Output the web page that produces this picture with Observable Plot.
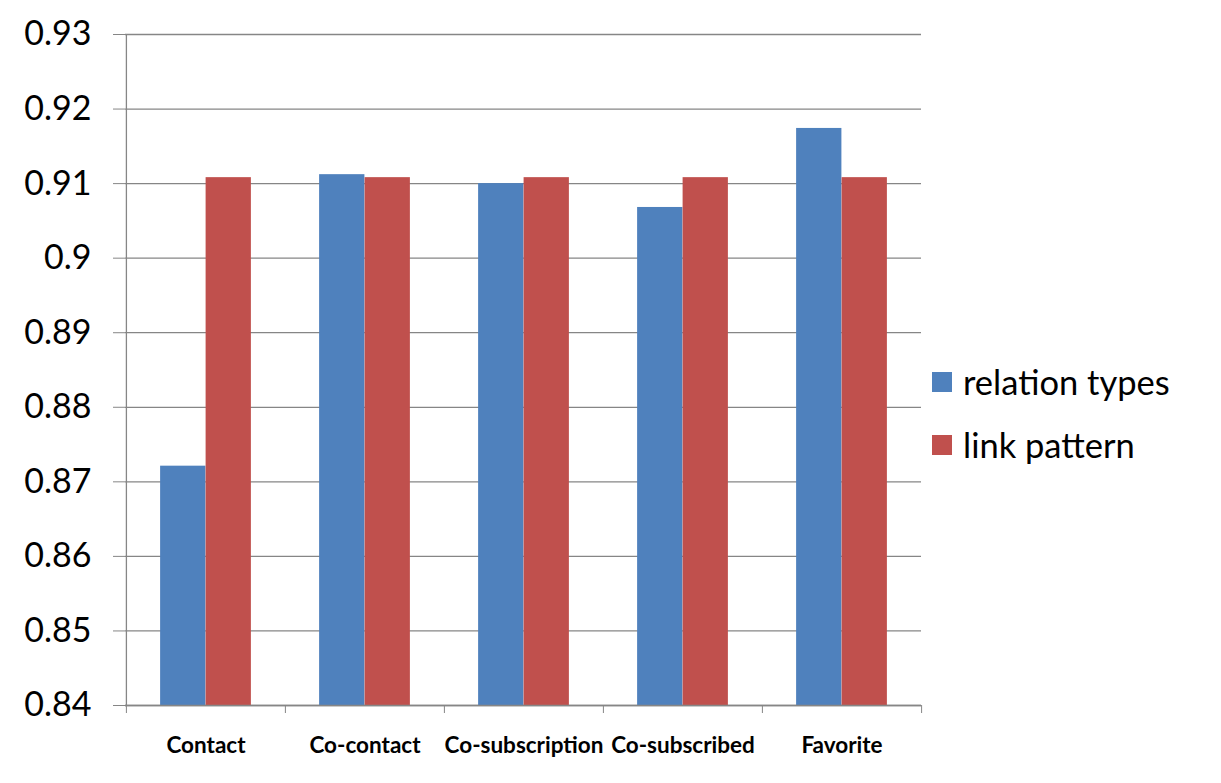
<!DOCTYPE html>
<html><head><meta charset="utf-8">
<script src="https://cdn.jsdelivr.net/npm/d3@7"></script>
<script src="https://cdn.jsdelivr.net/npm/@observablehq/plot@0.6"></script>
<style>
body{margin:0;background:#fff;color:#000;font-family:Lato, "Open Sans", sans-serif;}
#wrap{position:relative;width:1221px;height:783px;overflow:hidden;}
#legend{position:absolute;left:932px;top:350px;}
.item{display:flex;align-items:center;height:63px;font-size:34.5px;white-space:nowrap;}
.sw{width:20px;height:20px;margin-right:11px;flex:none;}
</style></head><body>
<div id="wrap"><div id="chart"></div><div id="legend"></div></div>
<script>
const categories = ["Contact", "Co-contact", "Co-subscription", "Co-subscribed", "Favorite"];
const series = ["relation types", "link pattern"];
const relationTypes = [0.8721, 0.9112, 0.9100, 0.9068, 0.9174];
const linkPattern = [0.9108, 0.9108, 0.9108, 0.9108, 0.9108];
const yTicks = [0.84, 0.85, 0.86, 0.87, 0.88, 0.89, 0.90, 0.91, 0.92, 0.93];
const colors = ["#4F81BD", "#C0504D"];

const rows = [];
categories.forEach((c, i) => {
  rows.push({category: c, series: series[0], value: relationTypes[i]});
  rows.push({category: c, series: series[1], value: linkPattern[i]});
});

const W = 1221, H = 783, mL = 125, mR = 300, mT = 34, mB = 78;
const bw = (W - mL - mR) / categories.length;
const barW = bw / 3.5;          // Excel gap width 150%
const half = 0.75 * barW;
const grid = "#868686";

const chart = Plot.plot({
  width: W, height: H,
  marginLeft: mL, marginRight: mR, marginTop: mT, marginBottom: mB,
  style: {fontFamily: "Lato, 'Open Sans', sans-serif", color: "#000", background: "#fff"},
  x: {type: "band", domain: categories, padding: 0, label: null},
  y: {domain: [yTicks[0], yTicks[yTicks.length - 1]], label: null},
  marks: [
    Plot.ruleY(yTicks, {stroke: grid, strokeWidth: 1.3}),
    Plot.barY(rows.filter(d => d.series === series[0]), {
      x: "category", y1: yTicks[0], y2: "value", fill: colors[0],
      insetLeft: half, insetRight: half + barW
    }),
    Plot.barY(rows.filter(d => d.series === series[1]), {
      x: "category", y1: yTicks[0], y2: "value", fill: colors[1],
      insetLeft: half + barW, insetRight: half
    }),
    Plot.ruleX([categories[0]], {y1: yTicks[0], y2: yTicks[yTicks.length - 1], dx: -bw / 2, stroke: grid, strokeWidth: 1.3}),
    Plot.ruleY([yTicks[0]], {stroke: grid, strokeWidth: 1.3}),
    Plot.axisY({ticks: yTicks, tickSize: 12, tickPadding: 22, fontSize: 34,
      tickFormat: d => String(+d.toFixed(2)), stroke: grid, fill: "#000"}),
    Plot.axisX({tickSize: 8, tickFormat: () => "", dx: -bw / 2, stroke: grid}),
    Plot.axisX({ticks: [categories[categories.length - 1]], tickSize: 8, tickFormat: () => "", dx: bw / 2, stroke: grid}),
    Plot.axisX({tickSize: 0, tickPadding: 32, fontSize: 22.5, fontWeight: "bold", fill: "#000"})
  ]
});
document.getElementById("chart").append(chart);

const legend = document.getElementById("legend");
series.forEach((s, i) => {
  const item = document.createElement("div");
  item.className = "item";
  const sw = document.createElement("span");
  sw.className = "sw";
  sw.style.background = colors[i];
  const t = document.createElement("span");
  t.textContent = s;
  item.append(sw, t);
  legend.append(item);
});
</script>
</body></html>
